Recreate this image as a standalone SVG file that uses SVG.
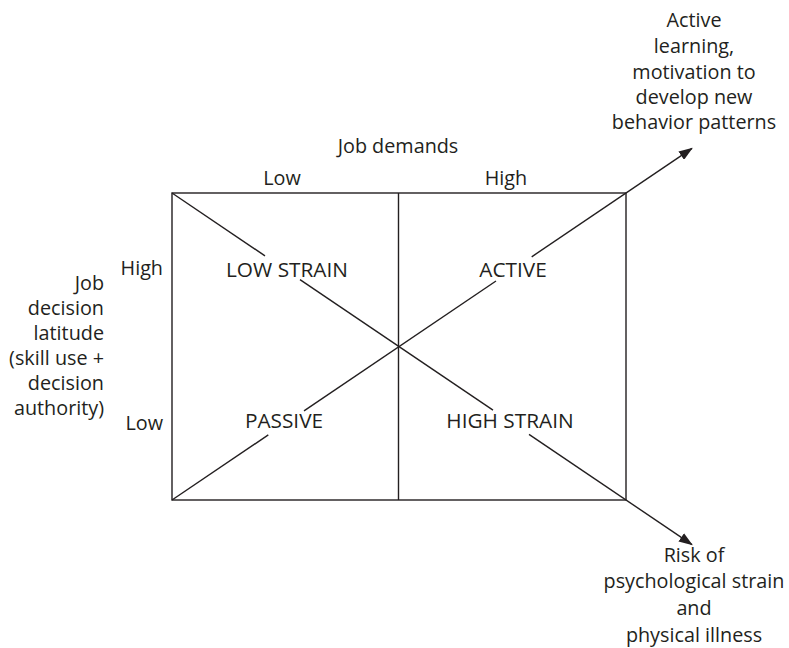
<svg xmlns="http://www.w3.org/2000/svg" width="789" height="648" viewBox="0 0 789 648">
<style>
text{font-family:"Open Sans","Noto Sans","Liberation Sans",sans-serif;font-size:19.8px;fill:#231f20}
.c{text-anchor:middle}
.r{text-anchor:end}
.q{font-size:20.8px}
.ln{stroke:#231f20;stroke-width:1.4;fill:none}
</style>
<defs>
<marker id="ah" viewBox="0 0 14 10" refX="13" refY="5" markerWidth="14" markerHeight="10" markerUnits="userSpaceOnUse" orient="auto">
<path d="M0,0 L14,5 L0,10 Z" fill="#231f20"/>
</marker>
</defs>
<rect width="789" height="648" fill="#fff"/>
<g id="connectors">
<rect class="ln" x="172" y="193" width="454" height="307"/>
<line class="ln" x1="398.5" y1="193" x2="398.5" y2="500"/>
<line class="ln" x1="172" y1="193" x2="265" y2="255.9"/>
<line class="ln" x1="300" y1="279.6" x2="493" y2="410.1"/>
<line class="ln" x1="529" y1="434.4" x2="692" y2="544.6" marker-end="url(#ah)"/>
<line class="ln" x1="172" y1="500" x2="268.3" y2="434.9"/>
<line class="ln" x1="304" y1="410.8" x2="496" y2="281"/>
<line class="ln" x1="531.7" y1="256.8" x2="692" y2="148.4" marker-end="url(#ah)"/>
</g>
<g id="axis-top">
<text class="c" x="398" y="153">Job demands</text>
<text class="c" x="282" y="185">Low</text>
<text class="c" x="506" y="185">High</text>
</g>
<g id="axis-left">
<text class="r" x="104" y="290">Job</text>
<text class="r" x="104" y="315">decision</text>
<text class="r" x="104" y="340">latitude</text>
<text class="r" x="104" y="365">(skill use +</text>
<text class="r" x="104" y="390">decision</text>
<text class="r" x="104" y="415">authority)</text>
<text class="r" x="163" y="275">High</text>
<text class="r" x="163" y="430">Low</text>
</g>
<g id="low-strain"><text class="c q" x="287" y="277">LOW STRAIN</text></g>
<g id="active"><text class="c q" x="513" y="277">ACTIVE</text></g>
<g id="passive"><text class="c q" x="284" y="428">PASSIVE</text></g>
<g id="high-strain"><text class="c q" x="510" y="428">HIGH STRAIN</text></g>
<g id="outcome-active">
<text class="c" x="694" y="27">Active</text>
<text class="c" x="694" y="53">learning,</text>
<text class="c" x="694" y="79">motivation to</text>
<text class="c" x="694" y="104">develop new</text>
<text class="c" x="694" y="129">behavior patterns</text>
</g>
<g id="outcome-strain">
<text class="c" x="694" y="562">Risk of</text>
<text class="c" x="694" y="588">psychological strain</text>
<text class="c" x="694" y="615">and</text>
<text class="c" x="694" y="642">physical illness</text>
</g>
</svg>
